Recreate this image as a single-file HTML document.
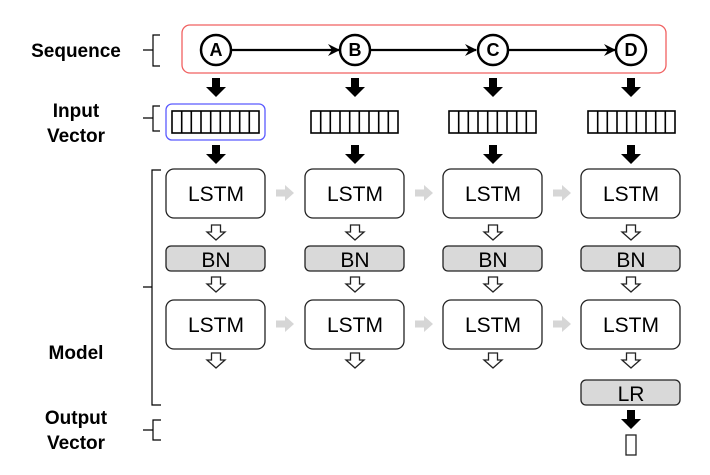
<!DOCTYPE html>
<html><head><meta charset="utf-8"><style>
html,body{margin:0;padding:0;background:#fff;}
svg{display:block;}
text{font-family:"Liberation Sans",sans-serif;}
</style></head><body>
<svg width="710" height="475" viewBox="0 0 710 475" xmlns="http://www.w3.org/2000/svg">
<defs>
<g id="blk"><polygon points="-4,0 4,0 4,9 10,9 0,19 -10,9 -4,9" fill="#000"/></g>
<g id="hol"><polygon points="-4.5,0 4.5,0 4.5,7 9,7 0,15 -9,7 -4.5,7" fill="#fff" stroke="#222" stroke-width="1.3"/></g>
<g id="gry"><polygon points="0,-3.5 9,-3.5 9,-8 18,0 9,8 9,3.5 0,3.5" fill="#d6d6d6"/></g>
<g id="vec">
<rect x="0" y="0" width="87" height="22" fill="#fff" stroke="#000" stroke-width="1.6"/>
<path d="M9.7,0V22M19.3,0V22M29,0V22M38.7,0V22M48.3,0V22M58,0V22M67.7,0V22M77.3,0V22" stroke="#000" stroke-width="1.6"/>
</g>
<marker id="ah" viewBox="0 0 12 12" refX="11" refY="6" markerWidth="12" markerHeight="12" markerUnits="userSpaceOnUse" orient="auto"><path d="M0,0 L12,6 L0,12 L4,6 Z" fill="#000"/></marker>
</defs>

<g font-weight="bold" font-size="19" fill="#000" text-anchor="middle">
<text x="76" y="57">Sequence</text>
<text x="76" y="117">Input</text>
<text x="76" y="142">Vector</text>
<text x="76" y="359">Model</text>
<text x="76" y="424">Output</text>
<text x="76" y="449">Vector</text>
</g>

<g fill="none" stroke="#000" stroke-width="1.2">
<path d="M160,35 H153 V66 H160 M153,50 H143"/>
<path d="M160,106 H153 V131 H160 M153,118 H143"/>
<path d="M161,170 H152 V405 H161 M152,287 H143"/>
<path d="M161,420 H153 V440 H161 M153,430 H143"/>
</g>

<rect x="182" y="25" width="484" height="48" rx="8" fill="#fff" stroke="#f06060" stroke-width="1.3"/>
<g stroke="#000" stroke-width="2.3">
<line x1="232" y1="50" x2="339" y2="50" marker-end="url(#ah)"/>
<line x1="371" y1="50" x2="476" y2="50" marker-end="url(#ah)"/>
<line x1="509" y1="50" x2="615" y2="50" marker-end="url(#ah)"/>
</g>
<g fill="#fff" stroke="#000" stroke-width="2.5">
<circle cx="216" cy="50" r="15"/><circle cx="355" cy="50" r="15"/>
<circle cx="493" cy="50" r="15"/><circle cx="631" cy="50" r="15"/>
</g>
<g font-weight="bold" font-size="18" text-anchor="middle">
<text x="216" y="56">A</text><text x="355" y="56">B</text>
<text x="493" y="56">C</text><text x="631" y="56">D</text>
</g>

<rect x="166" y="104" width="99" height="36" rx="6" fill="none" stroke="#5a5aff" stroke-width="1.3"/>
<use href="#vec" x="172" y="111"/>
<use href="#vec" x="311" y="111"/>
<use href="#vec" x="449" y="111"/>
<use href="#vec" x="588" y="111"/>

<g>
<use href="#blk" x="216" y="78"/><use href="#blk" x="355" y="78"/><use href="#blk" x="493" y="78"/><use href="#blk" x="631" y="78"/>
<use href="#blk" x="216" y="145"/><use href="#blk" x="355" y="145"/><use href="#blk" x="493" y="145"/><use href="#blk" x="631" y="145"/>
</g>

<g stroke="#222" stroke-width="1.3">
<rect x="166" y="169" width="99" height="49" rx="8" fill="#fff"/>
<rect x="305" y="169" width="99" height="49" rx="8" fill="#fff"/>
<rect x="443" y="169" width="99" height="49" rx="8" fill="#fff"/>
<rect x="581" y="169" width="99" height="49" rx="8" fill="#fff"/>
<rect x="166" y="246" width="99" height="25" rx="5" fill="#d9d9d9"/>
<rect x="305" y="246" width="99" height="25" rx="5" fill="#d9d9d9"/>
<rect x="443" y="246" width="99" height="25" rx="5" fill="#d9d9d9"/>
<rect x="581" y="246" width="99" height="25" rx="5" fill="#d9d9d9"/>
<rect x="166" y="300" width="99" height="49" rx="8" fill="#fff"/>
<rect x="305" y="300" width="99" height="49" rx="8" fill="#fff"/>
<rect x="443" y="300" width="99" height="49" rx="8" fill="#fff"/>
<rect x="581" y="300" width="99" height="49" rx="8" fill="#fff"/>
<rect x="581" y="380" width="99" height="25" rx="5" fill="#d9d9d9"/>
</g>
<g font-size="21" text-anchor="middle" fill="#000">
<text x="216" y="201">LSTM</text><text x="355" y="201">LSTM</text><text x="493" y="201">LSTM</text><text x="631" y="201">LSTM</text>
<text x="216" y="267">BN</text><text x="355" y="267">BN</text><text x="493" y="267">BN</text><text x="631" y="267">BN</text>
<text x="216" y="332">LSTM</text><text x="355" y="332">LSTM</text><text x="493" y="332">LSTM</text><text x="631" y="332">LSTM</text>
<text x="631" y="401">LR</text>
</g>
<g>
<use href="#gry" x="276" y="193"/><use href="#gry" x="415" y="193"/><use href="#gry" x="553" y="193"/>
<use href="#gry" x="276" y="324"/><use href="#gry" x="415" y="324"/><use href="#gry" x="553" y="324"/>
</g>
<g>
<use href="#hol" x="216" y="225"/><use href="#hol" x="355" y="225"/><use href="#hol" x="493" y="225"/><use href="#hol" x="631" y="225"/>
<use href="#hol" x="216" y="277"/><use href="#hol" x="355" y="277"/><use href="#hol" x="493" y="277"/><use href="#hol" x="631" y="277"/>
<use href="#hol" x="216" y="353"/><use href="#hol" x="355" y="353"/><use href="#hol" x="493" y="353"/><use href="#hol" x="631" y="353"/>
</g>
<use href="#blk" x="631" y="410"/>
<rect x="626" y="435" width="10" height="20" fill="#fff" stroke="#222" stroke-width="1.3"/>
</svg>
</body></html>
